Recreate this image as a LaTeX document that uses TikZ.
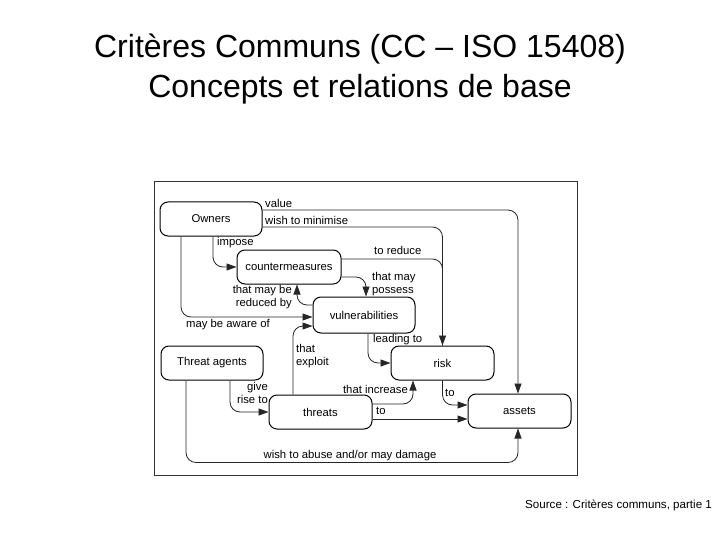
\documentclass[tikz,border=0pt]{standalone}
\usepackage{fontspec}
\setmainfont{Liberation Sans}
\usetikzlibrary{arrows.meta,calc}
\begin{document}
\begin{tikzpicture}[x=1pt,y=-1pt,
  box/.style={draw=black,line width=1pt,rounded corners=8pt,inner sep=0pt,
    minimum width=102pt,minimum height=34pt,font=\fontsize{11.3}{13}\selectfont},
  conn/.style={draw=black!85,line width=0.8pt,rounded corners=10pt},
  arr/.style={conn,-{Triangle[length=10pt,width=7pt]}},
  lbl/.style={inner sep=0pt,font=\fontsize{11.3}{13}\selectfont}]
\useasboundingbox (0,0) rectangle (720,540);
\node[font=\fontsize{32}{40}\selectfont,align=center] (title) at (360,69)
  {Critères Communs (CC – ISO 15408)\\Concepts et relations de base};
\draw[black!80,line width=1pt] (154,182) rectangle (577,475);
\node[lbl,anchor=west,font=\fontsize{11.6}{13}\selectfont] (src) at (525,505) {Source : Critères communs, partie 1};

\node[box] (own) at (211,219) {Owners};
\node[box,minimum width=104pt] (cm) at (289,267) {countermeasures};
\node[box,minimum height=36pt] (vul) at (364,315) {vulnerabilities};
\node[box] (ta) at (212,363) {Threat agents};
\node[box,minimum width=103pt] (thr) at (320.5,412) {threats};
\node[box,minimum width=103pt] (risk) at (442.5,363) {risk};
\node[box,minimum width=103pt] (ast) at (519.5,411) {assets};

% connectors
\draw[arr] ([yshift=9pt]own.east) -| ([xshift=-1.5pt]ast.north);
\draw[arr] ([yshift=-8pt]own.east) -| (risk.north);
\draw[conn] ([yshift=8pt]cm.east) -| (risk.north);
\draw[arr] ([yshift=-10pt]cm.east) -| ([xshift=2pt]vul.north);
\draw[arr] ([yshift=10pt]vul.west) -| ([xshift=8pt]cm.south);
\draw[arr] ([xshift=-30pt]own.south) |- ([yshift=-2pt]vul.west);
\draw[arr] ([xshift=2pt]own.south) |- (cm.west);
\draw[arr] ([xshift=-27.5pt]thr.north) |- ([yshift=-11pt]vul.west);
\draw[arr] ([xshift=4pt]vul.south) |- (risk.west);
\draw[arr] ([xshift=18pt]ta.south) |- (thr.west);
\draw[arr] ([yshift=8pt]thr.east) -| ([xshift=-29.5pt]risk.south);
\draw[arr] ([yshift=-7pt]thr.east) -- ([yshift=-7pt]thr.east -| ast.west);
\draw[arr] (risk.south) |- ([yshift=6pt]ast.west);
\draw[arr] ([xshift=-26pt]ta.south) |- ([yshift=-34pt,xshift=-1.5pt]ast.south) -- ([xshift=-1.5pt]ast.south);

% labels
\node[lbl,anchor=west] (l1) at (265,203) {value};
\node[lbl,anchor=west] (l2) at (265,220) {wish to minimise};
\node[lbl,anchor=west] (l3) at (217,243) {impose};
\node[lbl,anchor=west] (l4) at (374,250) {to reduce};
\node[lbl,anchor=west,align=left] (l5) at (372,284) {that may\\possess};
\node[lbl,anchor=east,align=right] (l6) at (292,297) {that may be\\reduced by};
\node[lbl,anchor=west] (l7) at (186,325) {may be aware of};
\node[lbl,anchor=west,align=left] (l8) at (296,356) {that\\exploit};
\node[lbl,anchor=west] (l9) at (373,340) {leading to};
\node[lbl,anchor=east,align=right] (l10) at (268,393) {give\\rise to};
\node[lbl,anchor=east] (l11) at (408,389) {that increase};
\node[lbl,anchor=west] (l12) at (376,411) {to};
\node[lbl,anchor=west] (l13) at (445,393) {to};
\node[lbl] (l14) at (350,456) {wish to abuse and/or may damage};
\end{tikzpicture}
\end{document}
